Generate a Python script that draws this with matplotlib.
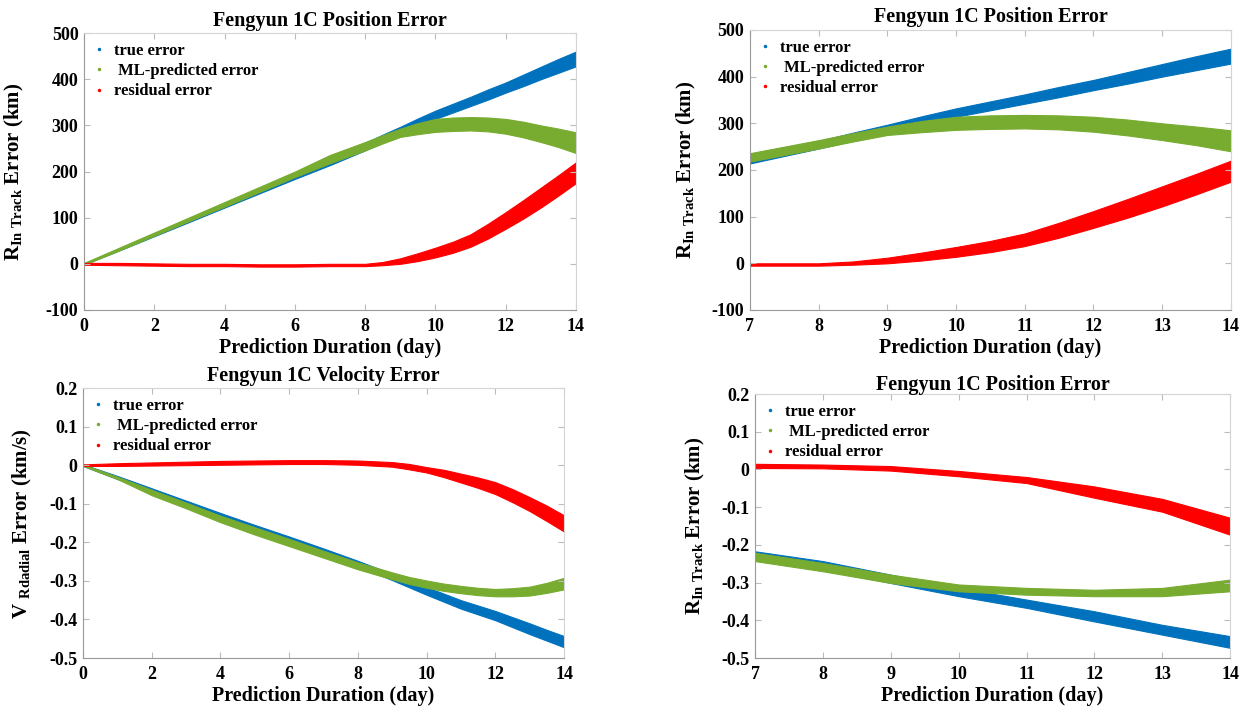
import numpy as np
import matplotlib.pyplot as plt
from matplotlib.lines import Line2D
from matplotlib.ticker import FuncFormatter

plt.rcParams['font.family'] = 'Liberation Serif'
plt.rcParams['font.weight'] = 'bold'
plt.rcParams['axes.unicode_minus'] = False
plt.rcParams['mathtext.fontset'] = 'custom'
plt.rcParams['mathtext.rm'] = 'Liberation Serif:bold'
plt.rcParams['mathtext.bf'] = 'Liberation Serif:bold'
plt.rcParams['mathtext.it'] = 'Liberation Serif:bold'

# position error, in-track (km) -- band low/high read per day (half days after day 8)
days = [0, 1, 2, 3, 4, 5, 6, 7, 8, 8.5, 9, 9.5, 10, 10.5, 11, 11.5, 12, 12.5, 13, 13.5, 14]
pos_true_hi = [1, 33, 65, 97, 129, 162, 195, 228, 262, 280, 297, 315, 332, 347, 362, 378, 393, 410, 427, 444, 460]
pos_true_lo = [-1, 29, 60, 91, 122, 153, 184, 214, 246, 263, 280, 297, 314, 328, 342, 356, 371, 385, 400, 414, 428]
pos_ml_hi = [2, 35, 68, 101, 134, 167, 200, 236, 264, 279, 293, 305, 314, 317, 318, 317, 314, 308, 300, 293, 285]
pos_ml_lo = [-2, 29, 61, 93, 124, 156, 188, 218, 246, 261, 275, 281, 286, 288, 289, 287, 282, 274, 264, 253, 240]
pos_res_hi = [2, 2, 1, 0, 0, -1, -1, 0, 0, 4, 12, 23, 35, 48, 64, 87, 112, 138, 165, 192, 220]
pos_res_lo = [-2, -3, -4, -5, -5, -6, -6, -5, -5, -3, 0, 6, 14, 24, 37, 55, 76, 98, 122, 148, 175]

# velocity error, radial (km/s)
vdays = [0, 1, 2, 3, 4, 5, 6, 7, 8, 9, 9.5, 10, 10.5, 11, 11.5, 12, 12.5, 13, 13.5, 14]
vel_true_hi = [0.002, -0.028, -0.060, -0.092, -0.124, -0.155, -0.185, -0.216, -0.248, -0.282,
               -0.299, -0.316, -0.333, -0.350, -0.364, -0.378, -0.394, -0.410, -0.427, -0.443]
vel_true_lo = [-0.002, -0.036, -0.070, -0.102, -0.138, -0.167, -0.198, -0.230, -0.262, -0.298,
               -0.317, -0.336, -0.354, -0.372, -0.387, -0.402, -0.420, -0.438, -0.455, -0.472]
vel_ml_hi = [0.002, -0.030, -0.064, -0.097, -0.131, -0.161, -0.191, -0.222, -0.252, -0.278,
             -0.290, -0.299, -0.307, -0.313, -0.318, -0.321, -0.319, -0.315, -0.305, -0.292]
vel_ml_lo = [-0.002, -0.036, -0.078, -0.112, -0.148, -0.180, -0.210, -0.240, -0.270, -0.296,
             -0.308, -0.318, -0.326, -0.332, -0.337, -0.340, -0.340, -0.338, -0.331, -0.322]
vel_res_hi = [0.002, 0.005, 0.007, 0.009, 0.011, 0.012, 0.013, 0.013, 0.012, 0.008,
              0.003, -0.005, -0.012, -0.022, -0.032, -0.044, -0.062, -0.083, -0.105, -0.130]
vel_res_lo = [-0.002, -0.002, -0.001, 0.000, 0.001, 0.002, 0.003, 0.003, 0.001, -0.004,
              -0.011, -0.019, -0.031, -0.045, -0.059, -0.075, -0.096, -0.119, -0.145, -0.172]

# bottom-right panel, day 7..14
days2 = [7, 8, 9, 10, 11, 12, 13, 14]
b_true_hi = [-0.217, -0.243, -0.279, -0.314, -0.345, -0.376, -0.412, -0.442]
b_true_lo = [-0.235, -0.265, -0.301, -0.336, -0.367, -0.403, -0.438, -0.473]
b_ml_hi = [-0.221, -0.248, -0.279, -0.305, -0.314, -0.319, -0.314, -0.292]
b_ml_lo = [-0.243, -0.270, -0.301, -0.323, -0.332, -0.336, -0.336, -0.323]
b_res_hi = [0.015, 0.013, 0.009, -0.004, -0.020, -0.045, -0.078, -0.128]
b_res_lo = [0.004, 0.003, -0.003, -0.018, -0.036, -0.075, -0.112, -0.173]

labels = ['true error', ' ML-predicted error', 'residual error']
colors = ['#0072BD', '#77AC30', '#FF0000']

fig = plt.figure(figsize=(12.47, 7.10), dpi=100)


def panel(rect, x, bands, xlim, ylim, yticks, title, ylabel, title_pad, ylabpad):
    ax = fig.add_axes(rect)
    for (lo, hi), c in zip(bands, colors):
        ax.fill_between(x, lo, hi, color=c, lw=0.8, edgecolor=c)
    ax.set_xlim(xlim)
    ax.set_ylim(ylim)
    ax.set_yticks(yticks)
    ax.yaxis.set_major_formatter(FuncFormatter(lambda v, p: '%g' % (round(v, 3) + 0.0)))
    ax.tick_params(direction='in', length=4, color='#bbbbbb', labelsize=13,
                   top=True, right=True)
    ax.tick_params(axis='x', pad=6)
    ax.tick_params(axis='y', pad=4)
    for side in ['left', 'bottom']:
        ax.spines[side].set_color('#999999')
    for side in ['top', 'right']:
        ax.spines[side].set_color('#d4d4d4')
    ax.set_title(title, fontsize=14.5, fontweight='bold', pad=title_pad)
    ax.set_xlabel('Prediction Duration (day)', fontsize=14.5, fontweight='bold', labelpad=2)
    ax.set_ylabel(ylabel, fontsize=15, fontweight='bold', labelpad=ylabpad)
    handles = [Line2D([], [], ls='none', marker='.', ms=3, color=c) for c in colors]
    ax.legend(handles, labels, loc='upper left', frameon=False,
              handlelength=0.6, handletextpad=0.6, labelspacing=0.25,
              borderaxespad=0.2, prop={'weight': 'bold', 'size': 12})
    return ax


pos_bands = [(pos_true_lo, pos_true_hi), (pos_ml_lo, pos_ml_hi), (pos_res_lo, pos_res_hi)]
vel_bands = [(vel_true_lo, vel_true_hi), (vel_ml_lo, vel_ml_hi), (vel_res_lo, vel_res_hi)]
b_bands = [(b_true_lo, b_true_hi), (b_ml_lo, b_ml_hi), (b_res_lo, b_res_hi)]

ylab_pos = r'R$_{\mathbf{In\ Track}}$ Error (km)'
ylab_vel = r'V $_{\mathbf{Rdadial}}$ Error (km/s)'

panel([0.0674, 0.5634, 0.3945, 0.390], days, pos_bands, (0, 14), (-100, 500),
      np.arange(-100, 501, 100), 'Fengyun 1C Position Error', ylab_pos, 5, 14)
ax2 = panel([0.6014, 0.5634, 0.3857, 0.3944], days, pos_bands, (7, 14), (-100, 500),
            np.arange(-100, 501, 100), 'Fengyun 1C Position Error', ylab_pos, 6, 10)
ax2.set_xticks(np.arange(7, 15))
panel([0.0666, 0.0732, 0.3857, 0.3803], vdays, vel_bands, (0, 14), (-0.5, 0.2),
      np.arange(-0.5, 0.21, 0.1), 'Fengyun 1C Velocity Error', ylab_vel, 5, 11)
ax4 = panel([0.6055, 0.0732, 0.381, 0.3718], days2, b_bands, (7, 14), (-0.5, 0.2),
            np.arange(-0.5, 0.21, 0.1), 'Fengyun 1C Position Error', ylab_pos, 3, 10)
ax4.set_xticks(np.arange(7, 15))

fig.savefig('out.png', dpi=100)
